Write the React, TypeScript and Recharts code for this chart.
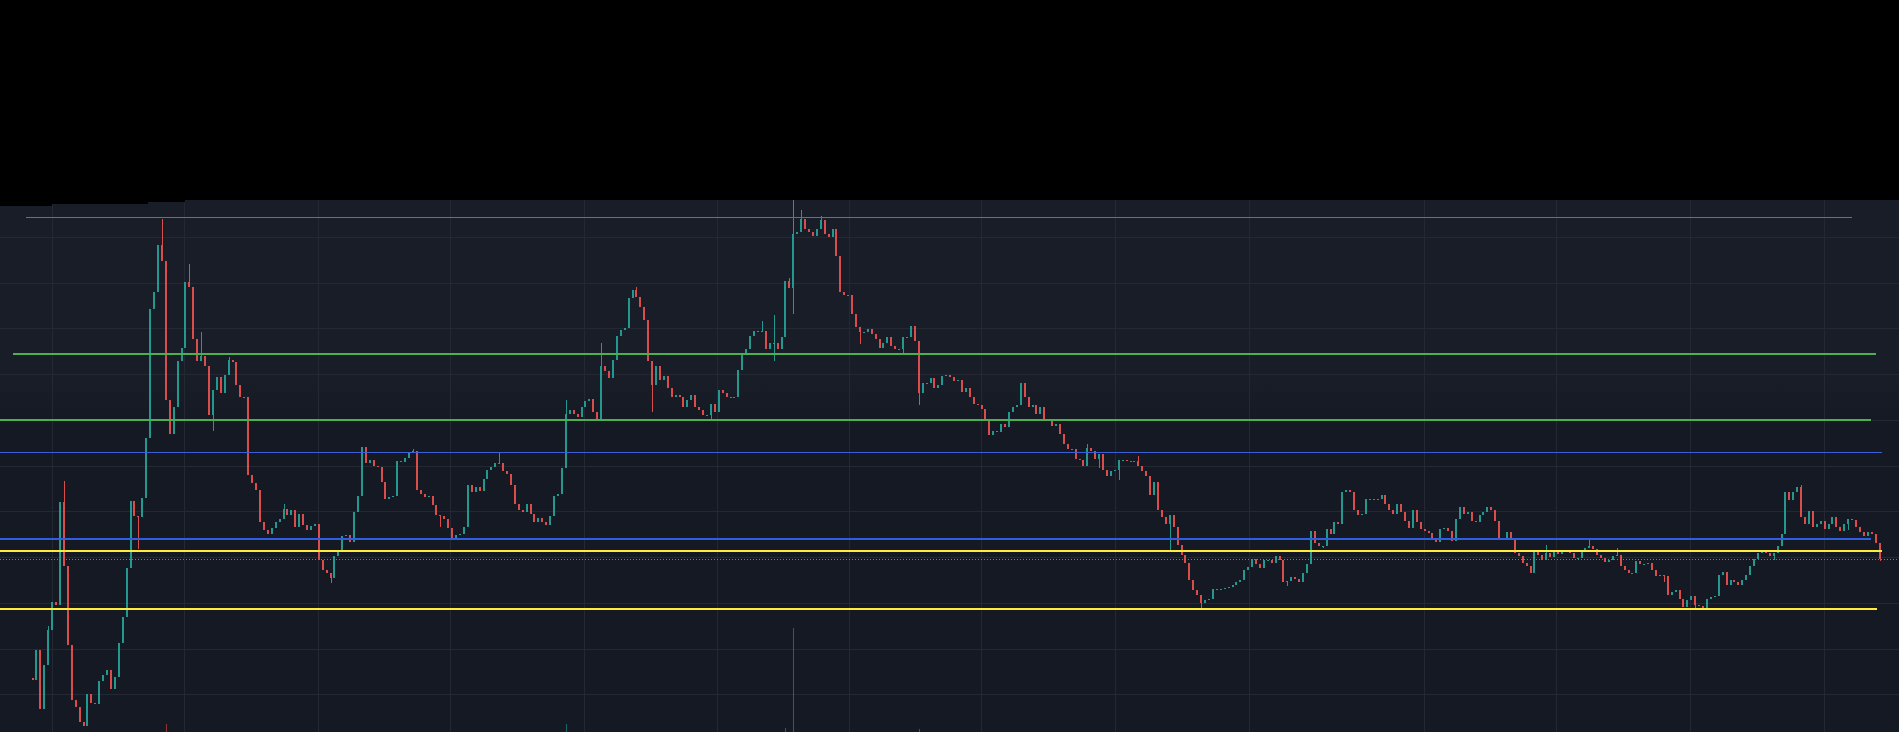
import { ComposedChart, BarChart, Bar, XAxis, YAxis, CartesianGrid, ReferenceLine } from 'recharts';

// closes per bar; [close, high, low] where a wick sticks out past the body
type Entry = number | [number, number | null, number | null];

const firstOpen = 54;

const closesA: Entry[] = [
    52, 82, 23, 67, [102, 106, null], 130, 127, 230, [166, 251, null], 87,
    32, 25, 10, 6, 38, 29, 28, 51, 57, 62,
    43, 55, 89, 115, 164, 231, 216, [215, null, 183], 234, 294,
    423, 440, 487, [471, 513, null], 332, 298, 325, 371, 384, 450,
    [445, 468, null], 393, 371, [376, 400, null], 366, 317, [342, null, 301], 355, 339, 357,
    [372, 375, null], 370, 347, 335, 335, 257, 249, 242, 210, 202,
    198, 204, 210, 213, [223, 228, null], 217, 222, 205, 218, 207,
    202, 206, 208, 172,
];

const closesB: Entry[] = [
    162, 159, [154, null, 149], 176, 182, 196, 197, 190, 220, 236,
    285, 269, 272, 266, 265, 250, 233, 235, 236, 271,
    270, 274, 280, [281, 283, null], 242, 238, 235, 236, 227, 217,
    [216, null, 205], 213, 204, 192, 197, 198, 205, 247, 240, 245,
    241, 253, 262, 265, 269, [269, 279, null], 261, 258, 247, 228,
    222, 220, 228, 218, 210, 214, 210, 207, 216, 236,
    238, 264, [318, 332, null], 322, 318, 315, 325, 331, 333, 320,
    313, [366, 389, null], 361, 354, 372, 396, 402, 404, 434, 442,
];

const closesC: Entry[] = [
    [435, 445, null], 425, 412, 371, [347, null, 320], 366, 352, 356, 344, 335,
    337, 335, 325, 332, 337, 325, 322, 317, 317, [328, null, 313],
    320, 342, 339, 335, 335, 335, 362, 378, 383, 396,
    401, 400, [401, 411, null], 383, 389, [389, 417, 371], 383, 395, 451, [444, 454, null],
    [498, 532, 418], 500, [513, 522, null], 503, 500, 496, 503, [512, 516, null], 498, 495,
    503, 476, 440, 437, 437, 418, 405, [400, null, 388], 400, 403,
    398, 393, 384, 389, 395, 386, 383, 383, [395, null, 378], 395,
    406, 391, [339, null, 327], 349, 349, 354, 344, 347, 356, 357,
];

const closesD: Entry[] = [
    355, 351, 352, 340, 344, 335, 328, 327, 323, 312,
    297, 301, 300, 308, 305, 320, 325, 327, 349, 335,
    325, 327, 318, 325, 312, 313, 306, 308, 298, 288,
    283, 283, 273, 272, 266, [284, 288, null], 281, 273, [278, null, 264], 262,
    256, 261, 262, [272, null, 252], 272, 271, 271, 271, [266, 276, null], 261,
    256, 237, 250, 222, 215, 208, [217, null, 182], 205, 187, 177,
    169, 152, 142, 137, [129, null, 123], 132, 133, 143, 142, 143,
    144, 145, 147, 150, 152, 162, 165, 173, 168, 164,
    172,
];

const closesE: Entry[] = [
    172, 169, 176, 172, 150, [151, null, 146], 155, 153, 150, 159,
    168, 201, 189, 186, [186, null, 184], 203, 198, 210, 208, 240,
    242, 240, 222, 217, 218, 233, 233, 233, 233, 237,
    228, 222, 218, 228, 220, 211, 204, 222, 210, 203,
    201, 199, 192, 190, 203, 204, 201, 191, 213, 225,
    218, 220, 211, 210, 217, 220, 225, 222, 211, 193,
    193, 200, 193, 179, 176, 169, 166, 159, 182, 177,
    172, [179, 187, null], 175, 181, 178, 180, 181, 179, 174, 174,
];

const closesF: Entry[] = [
    180, 184, [186, 194, null], 183, 177, 174, 170, 172, 176, [177, 184, null],
    166, 162, 159, 159, 171, 168, 168, 169, 162, 156,
    157, [156, null, 150], 137, 140, 142, 133, 125, 132, 136, [127, null, 122],
    126, 124, 133, 135, 136, 157, 160, 147, 152, 150,
    147, 152, 157, 166, 173, 179, 182, 179, 176, [179, null, 172],
    186, 198, 240, 232, 240, 245, [215, 247, null], 208, 221, 205,
    208, 211, 203, 208, 215, 205, 201, 208, [213, null, 202], 212,
    205, 200, 196, 200, 198, 189, [173, null, 171],
];

// volume spikes: bar index and size
const volumeIdx = [34, 136, 192, 194, 226];
const volumeVals = [8, 8, 4, 104, 3];

// drawn horizontal levels: price, start and end in bar index
const levelPrices = [515, 378, 312, 280, 193, 181, 123];
const levelFrom = [-1.8, -5.1, -9, -9, -9, -9, -9];
const levelTo = [463.9, 470.0, 468.7, 471.5, 468.7, 471.5, 470.2];
const levelColors = ['#f23645', '#4caf50', '#4caf50', '#3a5fd8', '#2f5fe0', '#ffeb3b', '#ffeb3b'];
const levelWidths = [1, 2, 2, 1, 2, 2, 2];

// price / time grid
const gridPrices = [494.7, 449.0, 403.2, 357.5, 311.7, 266.0, 220.3, 174.5, 128.8, 83.0, 37.3];
const gridTimes = [4.85, 38.76, 72.68, 106.59, 140.51, 174.43, 208.34, 242.0, 275.92, 310.09, 354.97, 388.63, 422.55, 456.72];

const W = 1899;
const H = 532;
const FIRST_X = 33;
const LAST_X = 1880;
const UP = '#26a69a';
const DOWN = '#ef5350';

const entries: Entry[] = [...closesA, ...closesB, ...closesC, ...closesD, ...closesE, ...closesF];

const rows: any[] = [];
let prev = firstOpen;
entries.forEach((e, i) => {
    const [c, h, l] = typeof e === 'number' ? [e, null, null] : e;
    const o = prev;
    const high = Math.max(o, c, h ?? -Infinity);
    const low = Math.min(o, c, l ?? Infinity);
    rows.push({ i, o, c, h: high, l: low, range: [low, high], vol: 0 });
    prev = c;
});
volumeIdx.forEach((idx, k) => {
    rows[idx].vol = volumeVals[k];
});
const lastClose = rows[rows.length - 1].c;

const step = (LAST_X - FIRST_X) / (rows.length - 1);
const xLo = -FIRST_X / step;
const xHi = xLo + W / step;

const Candle = (props: any) => {
    const { x, y, width, height, payload } = props;
    if (!payload) return null;
    const { o, c, h, l } = payload;
    const cx = Math.round(x + width / 2);
    const color = c >= o ? UP : DOWN;
    const k = h - l > 0 ? height / (h - l) : 0;
    const top = y + (h - Math.max(o, c)) * k;
    const bot = y + (h - Math.min(o, c)) * k;
    return (
        <g shapeRendering="crispEdges" opacity={0.9}>
            <line x1={cx + 0.5} x2={cx + 0.5} y1={y} y2={y + Math.max(1, height)} stroke={color} strokeWidth={1} />
            <rect x={cx - 1} y={top} width={2} height={Math.max(1, bot - top)} fill={color} />
        </g>
    );
};

const VolumeBar = (props: any) => {
    const { x, y, width, height, payload } = props;
    if (!payload || !height) return null;
    const cx = Math.round(x + width / 2);
    return (
        <rect
            x={cx}
            y={y}
            width={1}
            height={height}
            fill={payload.c >= payload.o ? UP : DOWN}
            fillOpacity={0.55}
        />
    );
};

export default function App() {
    return (
        <div style={{ position: 'relative', width: W, height: 732, background: '#000', overflow: 'hidden' }}>
            <style>{'body{margin:0;background:#000}'}</style>
            <div
                style={{
                    position: 'absolute',
                    left: 0,
                    top: 200,
                    width: W,
                    height: H,
                    background: 'linear-gradient(to bottom, #191d28 0%, #191d28 34%, #151924 42%, #151924 100%)',
                }}
            >
                <ComposedChart width={W} height={H} data={rows} margin={{ top: 0, right: 0, bottom: 0, left: 0 }}>
                    <CartesianGrid
                        stroke="#242833"
                        shapeRendering="crispEdges"
                        horizontalValues={gridPrices}
                        verticalValues={gridTimes}
                    />
                    <XAxis dataKey="i" type="number" domain={[xLo, xHi]} allowDataOverflow hide />
                    <YAxis type="number" domain={[0, H]} allowDataOverflow hide />
                    {levelPrices.map((p, k) => (
                        <ReferenceLine
                            key={k}
                            segment={[{ x: levelFrom[k], y: p }, { x: levelTo[k], y: p }]}
                            stroke={levelColors[k]}
                            strokeWidth={levelWidths[k]}
                            shapeRendering="crispEdges"
                            ifOverflow="hidden"
                        />
                    ))}
                    <ReferenceLine y={lastClose} stroke={UP} strokeDasharray="1 2" strokeWidth={1} shapeRendering="crispEdges" />
                    <Bar dataKey="range" barSize={3} shape={<Candle />} isAnimationActive={false} />
                </ComposedChart>
                <div style={{ position: 'absolute', left: 0, top: 0 }}>
                    <BarChart width={W} height={H} data={rows} margin={{ top: 0, right: 0, bottom: 0, left: 0 }}>
                        <XAxis dataKey="i" type="number" domain={[xLo, xHi]} allowDataOverflow hide />
                        <YAxis type="number" domain={[0, H]} allowDataOverflow hide />
                        <Bar dataKey="vol" barSize={3} shape={<VolumeBar />} isAnimationActive={false} />
                    </BarChart>
                </div>
            </div>
            <div style={{ position: 'absolute', left: 0, top: 200, width: 52, height: 6, background: '#000' }} />
            <div style={{ position: 'absolute', left: 52, top: 200, width: 96, height: 4, background: '#000' }} />
            <div style={{ position: 'absolute', left: 148, top: 200, width: 37, height: 2, background: '#000' }} />
        </div>
    );
}
